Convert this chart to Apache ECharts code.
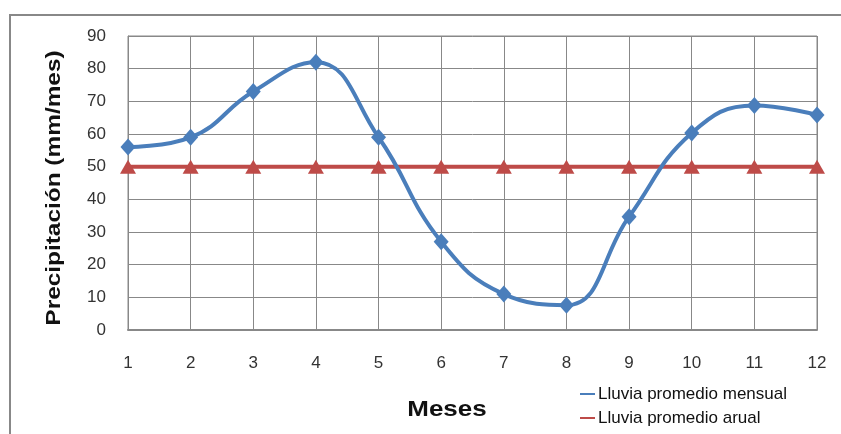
<!DOCTYPE html>
<html><head><meta charset="utf-8">
<script src="https://cdn.jsdelivr.net/npm/echarts@6/dist/echarts.min.js"></script>
<style>html,body{margin:0;padding:0;background:#fff}#c{width:841px;height:434px}</style>
</head><body><div id="c"></div>
<script>
const months = [1,2,3,4,5,6,7,8,9,10,11,12];
const lluviaMensual = [56,59,73,82,59,27,11,7.6,34.7,60.3,68.7,65.8];
const lluviaAnual = [50,50,50,50,50,50,50,50,50,50,50,50];
const yTicks = [0,10,20,30,40,50,60,70,80,90];
const seriesNames = ['Lluvia promedio mensual','Lluvia promedio arual'];

const chart = echarts.init(document.getElementById('c'), null, {renderer:'canvas'});
const font = 'Liberation Sans, Arial, sans-serif';
chart.setOption({
  animation:false,
  grid:{left:128, right:24, top:36, bottom:104, show:true, borderColor:'#888', borderWidth:1},
  xAxis:{type:'value', min:1, max:12, interval:1,
    axisLine:{show:true, lineStyle:{color:'#888', width:2}}, axisTick:{show:false},
    axisLabel:{margin:25, fontSize:17, color:'#333', fontFamily:font},
    splitLine:{show:true, lineStyle:{color:'#888', width:1}}},
  yAxis:{type:'value', min:yTicks[0], max:yTicks[yTicks.length-1], interval:10,
    axisLine:{show:true, lineStyle:{color:'#888', width:1}}, axisTick:{show:false},
    axisLabel:{margin:22, fontSize:17, color:'#333', fontFamily:font},
    splitLine:{show:true, lineStyle:{color:'#888', width:1}}},
  legend:{orient:'vertical', left:580, top:385, bottom:0, padding:0, itemGap:6, itemWidth:15, itemHeight:2,
    icon:'rect', textStyle:{fontSize:17, lineHeight:18, color:'#111', fontFamily:font, padding:[0,0,0,-2]},
    data:seriesNames},
  series:[
    {name:seriesNames[0], type:'line', smooth:0.45, data:months.map((m,i)=>[m,lluviaMensual[i]]),
      symbol:'diamond', symbolSize:[15,17], lineStyle:{color:'#4A7EBB', width:4},
      itemStyle:{color:'#4A7EBB'}, z:3},
    {name:seriesNames[1], type:'line', data:months.map((m,i)=>[m,lluviaAnual[i]]),
      symbol:'triangle', symbolSize:[16,14], lineStyle:{color:'#BE4B48', width:4},
      itemStyle:{color:'#BE4B48'}, z:2}
  ],
  graphic:[
    {type:'rect', shape:{x:10, y:15, width:900, height:500}, style:{fill:'none', stroke:'#888', lineWidth:2}, silent:true, z:-1},
    {type:'text', x:54, y:188, rotation:Math.PI/2, scaleX:1.22, style:{text:'Precipitación (mm/mes)', font:'bold 20px '+font, fill:'#111', align:'center', verticalAlign:'middle'}},
    {type:'text', x:447, y:410, scaleX:1.18, style:{text:'Meses', font:'bold 22px '+font, fill:'#111', align:'center', verticalAlign:'middle'}}
  ]
});
</script></body></html>
